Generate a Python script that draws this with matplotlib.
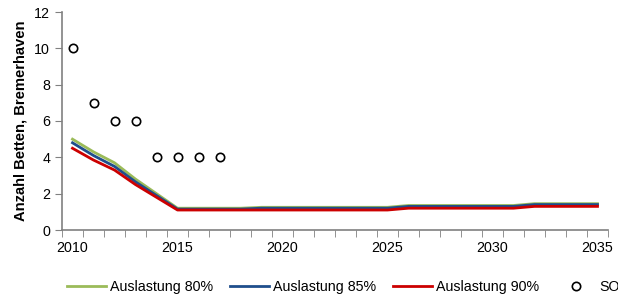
import matplotlib.pyplot as plt
import numpy as np

plt.rcParams['font.family'] = ['Liberation Sans', 'DejaVu Sans']

years = list(range(2010, 2036))
ausl_80 = [5.0, 4.3, 3.7, 2.8, 2.0, 1.2, 1.2, 1.2, 1.2,
           1.25, 1.25, 1.25, 1.25, 1.25, 1.25, 1.25,
           1.35, 1.35, 1.35, 1.35, 1.35, 1.35,
           1.45, 1.45, 1.45, 1.45]
ausl_85 = [4.8, 4.1, 3.5, 2.65, 1.9, 1.15, 1.15, 1.15, 1.15,
           1.2, 1.2, 1.2, 1.2, 1.2, 1.2, 1.2,
           1.3, 1.3, 1.3, 1.3, 1.3, 1.3,
           1.4, 1.4, 1.4, 1.4]
ausl_90 = [4.5, 3.85, 3.3, 2.5, 1.8, 1.1, 1.1, 1.1, 1.1,
           1.1, 1.1, 1.1, 1.1, 1.1, 1.1, 1.1,
           1.2, 1.2, 1.2, 1.2, 1.2, 1.2,
           1.3, 1.3, 1.3, 1.3]
soll_years = list(range(2010, 2018))
soll = [10, 7, 6, 6, 4, 4, 4, 4]

fs = 10.3

fig = plt.figure(figsize=(6.18, 2.98), dpi=100)
ax = fig.add_axes([62 / 618, 1 - 230 / 298, 546 / 618, 218 / 298])

x = np.arange(len(years))
sx = np.arange(len(soll_years))
l1, = ax.plot(x, ausl_80, color='#9BBB59', lw=2.0, label='Auslastung 80%')
l2, = ax.plot(x, ausl_85, color='#1F4E8C', lw=2.0, label='Auslastung 85%')
l3, = ax.plot(x, ausl_90, color='#CC0000', lw=2.0, label='Auslastung 90%')
l4, = ax.plot(sx, soll, linestyle='none', marker='o', markersize=6,
              markerfacecolor='white', markeredgecolor='black',
              markeredgewidth=1.2, label='SOLL')

ax.set_xlim(-0.5, len(years) - 0.5)
ax.set_ylim(0, 12)
ax.set_yticks([0, 2, 4, 6, 8, 10, 12])
label_pos = [i for i, y in enumerate(years) if y % 5 == 0]
ax.set_xticks(label_pos)
ax.set_xticklabels([str(years[i]) for i in label_pos])
ax.set_xticks(np.arange(-0.5, len(years)), minor=True)
ax.tick_params(axis='x', which='major', length=0, pad=8, labelsize=fs)
ax.tick_params(axis='x', which='minor', length=5, color='#808080', direction='out')
ax.tick_params(axis='y', length=5, color='#808080', labelsize=fs)

for s in ['top', 'right']:
    ax.spines[s].set_visible(False)
for s in ['left', 'bottom']:
    ax.spines[s].set_color('#808080')
    ax.spines[s].set_linewidth(1.2)

ax.set_ylabel('Anzahl Betten, Bremerhaven', fontsize=10.6, fontweight='bold', labelpad=5)

fig.legend(handles=[l1, l2, l3, l4], loc='center left', bbox_to_anchor=(67 / 618, 1 - 287 / 298),
           ncol=4, frameon=False, fontsize=fs, handlelength=2.7, handletextpad=0.3,
           columnspacing=1.2, borderaxespad=0, borderpad=0)

fig.savefig('out.png', dpi=100)
